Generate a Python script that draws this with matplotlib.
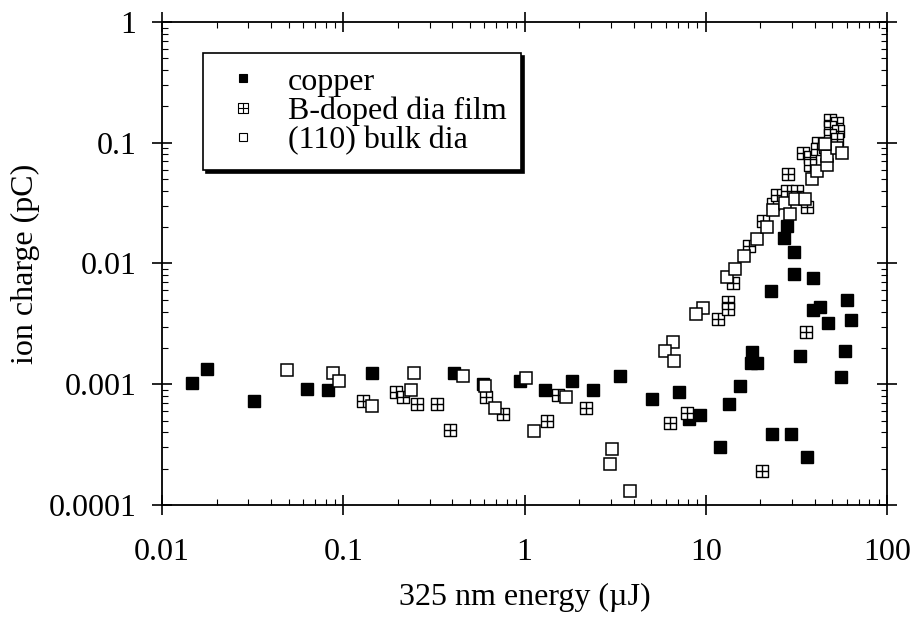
import matplotlib
matplotlib.use("Agg")
import matplotlib.pyplot as plt
from matplotlib.path import Path
from matplotlib.lines import Line2D

plt.rcParams['font.family'] = ['Liberation Serif', 'DejaVu Serif']

# ---- data: 325 nm energy (uJ) vs ion charge (pC) ----
copper_energy = [0.0146, 0.0177, 0.032, 0.063, 0.082, 0.144, 0.41, 0.59, 0.94, 1.3,
                 1.83, 2.38, 3.36, 5.04, 7.1, 8.07, 9.3, 12.0, 13.4, 15.4,
                 18.0, 17.7, 19.1, 23.2, 29.5, 36.1, 33.0, 55.6, 58.5, 47.2,
                 63.1, 27.0, 30.6, 30.6, 39.0, 22.9, 42.6, 39.0, 60.0, 28.0]
copper_charge = [0.00103, 0.00135, 0.00073, 0.00092, 0.00089, 0.00125, 0.00125, 0.00101, 0.00107, 0.00089,
                 0.00107, 0.0009, 0.00116, 0.00076, 0.00087, 0.00052, 0.00056, 0.0003, 0.00068, 0.00096,
                 0.00186, 0.00151, 0.0015, 0.00039, 0.00039, 0.00025, 0.0017, 0.00114, 0.0019, 0.0032,
                 0.0034, 0.0162, 0.0124, 0.0082, 0.0076, 0.0059, 0.0044, 0.0041, 0.0050, 0.0204]

bdoped_energy = [0.128, 0.195, 0.214, 0.255, 0.33, 0.39, 0.61, 0.76, 1.53, 1.33,
                 2.18, 6.34, 7.87, 20.4, 35.7, 11.7, 13.2, 13.2, 14.1, 17.3,
                 20.7, 23.4, 24.7, 28.0, 31.8, 36.1, 28.4, 34.3, 37.5, 37.5,
                 41.5, 41.0, 45.4, 48.4, 52.9, 48.4, 53.5, 48.4, 52.9]
bdoped_charge = [0.00073, 0.00087, 0.00079, 0.00069, 0.00069, 0.00042, 0.00079, 0.00057, 0.00081, 0.0005,
                 0.00064, 0.00048, 0.00058, 0.00019, 0.0027, 0.0035, 0.0048, 0.0042, 0.0069, 0.0139,
                 0.0224, 0.031, 0.0367, 0.0396, 0.0396, 0.0292, 0.0547, 0.083, 0.0756, 0.066,
                 0.1, 0.088, 0.093, 0.155, 0.147, 0.134, 0.124, 0.117, 0.108]

bulk_energy = [0.049, 0.088, 0.095, 0.144, 0.236, 0.245, 0.457, 0.605, 0.687, 1.02,
               1.69, 1.13, 3.03, 2.96, 3.81, 6.58, 5.95, 6.67, 9.64, 8.82,
               13.1, 14.5, 16.2, 19.1, 21.7, 23.4, 27.3, 31.0, 35.2, 29.1,
               38.5, 41.0, 46.6, 46.6, 52.9, 56.3, 45.4]
bulk_charge = [0.0013, 0.00123, 0.00107, 0.00066, 0.0009, 0.00125, 0.00116, 0.00096, 0.00064, 0.00112,
               0.00079, 0.00041, 0.00029, 0.00022, 0.00013, 0.00225, 0.0019, 0.00157, 0.0043, 0.0038,
               0.0077, 0.009, 0.0115, 0.0159, 0.02, 0.028, 0.0316, 0.034, 0.034, 0.0256,
               0.05, 0.058, 0.066, 0.077, 0.09, 0.0815, 0.097]

series_labels = ["copper", "B-doped dia film", "(110) bulk dia"]
x_ticks = [0.01, 0.1, 1, 10, 100]
x_ticklabels = ["0.01", "0.1", "1", "10", "100"]
y_ticks = [0.0001, 0.001, 0.01, 0.1, 1]
y_ticklabels = ["0.0001", "0.001", "0.01", "0.1", "1"]

# square with a cross inside
crossed_square = Path(
    [(-1, -1), (1, -1), (1, 1), (-1, 1), (-1, -1),
     (0, -1), (0, 1), (-1, 0), (1, 0)],
    [Path.MOVETO, Path.LINETO, Path.LINETO, Path.LINETO, Path.CLOSEPOLY,
     Path.MOVETO, Path.LINETO, Path.MOVETO, Path.LINETO])

FS = 23

fig = plt.figure(figsize=(9.19, 6.25), dpi=100)
ax = fig.add_axes([0.1763, 0.192, 0.7889, 0.7728])

ms = 8
ax.plot(copper_energy, copper_charge, linestyle='none', marker='s', ms=ms,
        mfc='black', mec='black', mew=1.0)
ax.plot(bdoped_energy, bdoped_charge, linestyle='none', marker=crossed_square, ms=ms + 0.5,
        mfc='white', mec='black', mew=1.0)
ax.plot(bulk_energy, bulk_charge, linestyle='none', marker='s', ms=ms + 0.5,
        mfc='white', mec='black', mew=1.1)

ax.set_xscale('log')
ax.set_yscale('log')
ax.set_xlim(0.01, 100)
ax.set_ylim(0.0001, 1)
ax.set_xticks(x_ticks)
ax.set_xticklabels(x_ticklabels)
ax.set_yticks(y_ticks)
ax.set_yticklabels(y_ticklabels)

for s in ax.spines.values():
    s.set_linewidth(1.3)

ax.tick_params(which='major', direction='inout', length=15, width=1.2,
               top=True, right=True, labelsize=FS)
ax.tick_params(axis='x', which='major', pad=16)
ax.tick_params(axis='y', which='major', pad=11)
ax.tick_params(which='minor', direction='in', length=4, width=0.8,
               top=True, right=True)

ax.set_xlabel("325 nm energy (\u00b5J)", fontsize=FS, labelpad=12)
ax.set_ylabel("ion charge (pC)", fontsize=FS, labelpad=6)

handles = [
    Line2D([], [], linestyle='none', marker='s', ms=6, mfc='black', mec='black', mew=0.8),
    Line2D([], [], linestyle='none', marker=crossed_square, ms=6.5, mfc='white', mec='black', mew=0.8),
    Line2D([], [], linestyle='none', marker='s', ms=6, mfc='white', mec='black', mew=0.8),
]
leg = ax.legend(handles, series_labels, loc='upper left', bbox_to_anchor=(0.057, 0.936),
                borderaxespad=0, fontsize=FS, frameon=True, fancybox=False,
                shadow={'color': 'black', 'alpha': 1.0}, handlelength=1.6,
                handletextpad=0.6, labelspacing=0.0, borderpad=0.45)
leg.get_frame().set_edgecolor('black')
leg.get_frame().set_linewidth(1.2)
leg.get_frame().set_facecolor('white')
leg.get_frame().set_alpha(1.0)

fig.savefig("out.png", dpi=100)
